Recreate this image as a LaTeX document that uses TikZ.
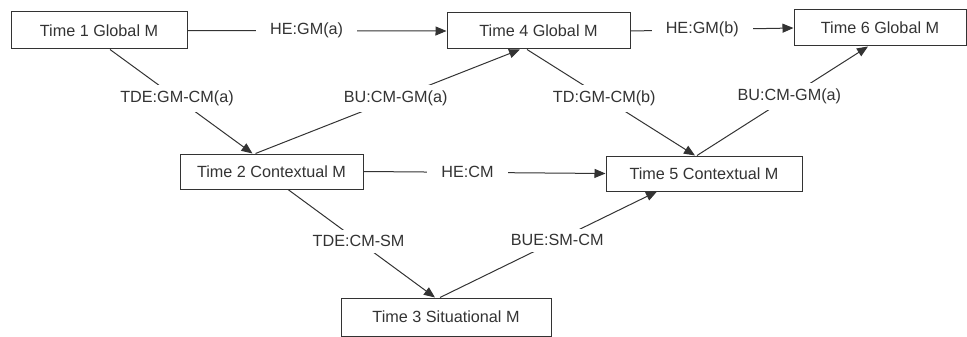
\documentclass[tikz,border=0pt]{standalone}
\usepackage{fontspec}
\setmainfont{Liberation Sans}
\usetikzlibrary{arrows.meta}
\definecolor{ink}{HTML}{333333}
\tikzset{
  box/.style={draw=ink, line width=1pt, text=ink, inner sep=0pt, align=center, font=\fontsize{16.2}{18}\selectfont},
  lab/.style={fill=white, text=ink, inner xsep=14pt, inner ysep=6pt, font=\fontsize{16.2}{18}\selectfont},
  conn/.style={draw=ink, line width=1pt},
  arr/.style={conn, -{Triangle[length=11pt,width=9pt]}}
}
\begin{document}
\begin{tikzpicture}[x=1pt,y=-1pt]
\useasboundingbox (0,0) rectangle (967,337);
\node[box, minimum width=176pt, minimum height=37pt] (t1) at (99,30.5) {Time 1 Global M};
\node[box, minimum width=183pt, minimum height=36pt] (t4) at (538.5,31) {Time 4 Global M};
\node[box, minimum width=172pt, minimum height=36pt] (t6) at (880,28) {Time 6 Global M};
\node[box, minimum width=183pt, minimum height=35pt] (t2) at (271.5,171.5) {Time 2 Contextual M};
\node[box, minimum width=196pt, minimum height=35pt] (t5) at (704,173.5) {Time 5 Contextual M};
\node[box, minimum width=210pt, minimum height=38pt] (t3) at (446,317) {Time 3 Situational M};

% horizontal
\draw[arr] (t1.east) -- node[lab, pos=0.46] (hea) {HE:GM(a)} (t4.west);
\draw[arr] (t4.east) -- node[lab, pos=0.44] (heb) {HE:GM(b)} (t6.west);
\draw[arr] (t2.east) -- node[lab, pos=0.43] (hec) {HE:CM} (t5.west);

% diagonals
\draw[arr] ([xshift=11pt]t1.south) -- node[lab, pos=0.47] (tde1) {TDE:GM-CM(a)} ([xshift=-19pt]t2.north);
\draw[arr] ([xshift=-16pt]t2.north) -- node[lab, pos=0.53] (bu1) {BU:CM-GM(a)} ([xshift=-18.5pt]t4.south);
\draw[arr] ([xshift=-11.5pt]t4.south) -- node[lab, pos=0.46] (td2) {TD:GM-CM(b)} ([xshift=-9pt]t5.north);
\draw[arr] ([xshift=-7pt]t5.north) -- node[lab, pos=0.54] (bu2) {BU:CM-GM(a)} ([xshift=-12pt]t6.south);
\draw[arr] ([xshift=16.5pt]t2.south) -- node[lab, pos=0.48] (tde2) {TDE:CM-SM} ([xshift=-11pt]t3.north);
\draw[arr] ([xshift=-6pt]t3.north) -- node[lab, pos=0.54] (bue) {BUE:SM-CM} ([xshift=-47pt]t5.south);
\end{tikzpicture}
\end{document}
